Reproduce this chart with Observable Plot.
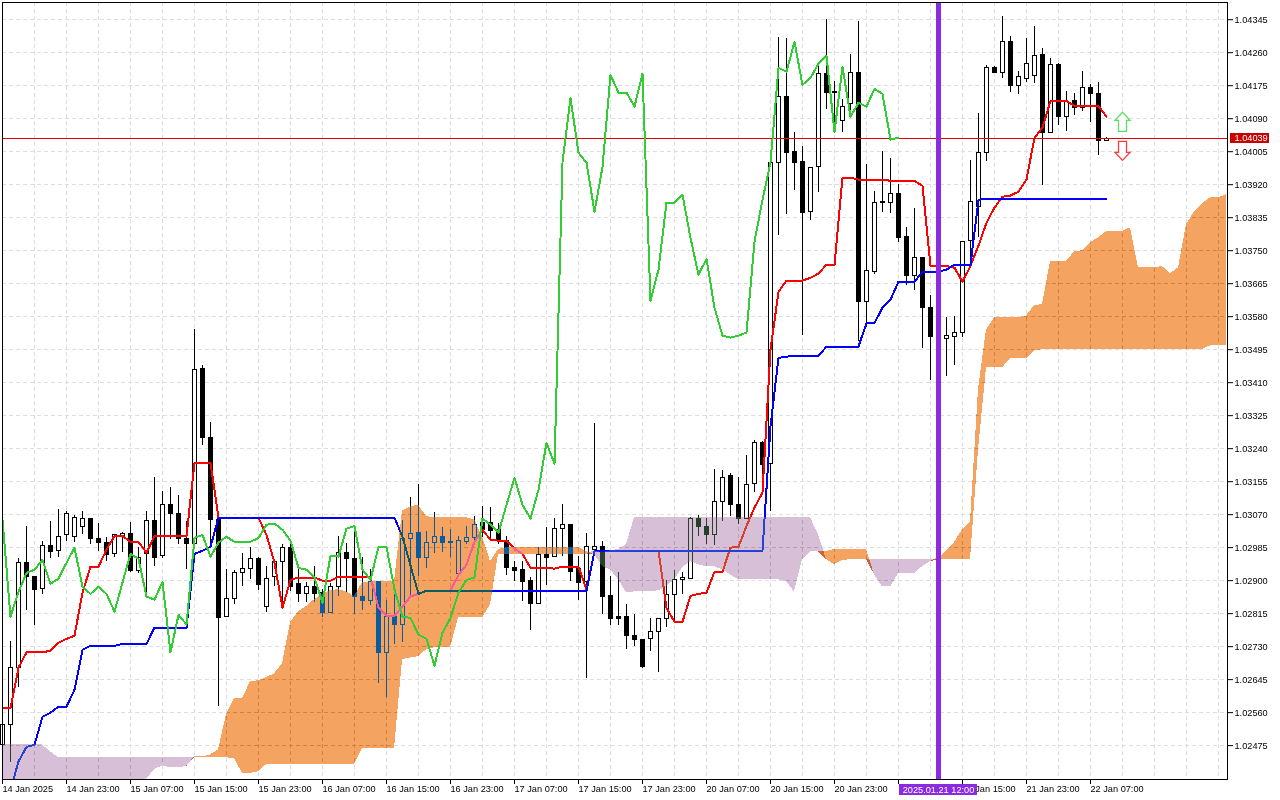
<!DOCTYPE html>
<html><head><meta charset="utf-8">
<script src="https://cdn.jsdelivr.net/npm/d3@7"></script>
<script src="https://cdn.jsdelivr.net/npm/@observablehq/plot@0.6"></script>
<style>html,body{margin:0;padding:0;background:#fff;overflow:hidden}</style>
</head><body><div id="chart"></div>
<script>
const open=[1.02477,1.02529,1.02676,1.02946,1.02910,1.02879,1.02990,1.02977,1.03018,1.03015,
1.03039,1.03060,1.03008,1.02998,1.02969,1.03015,1.03021,1.02925,1.02969,1.03054,
1.02964,1.03095,1.03072,1.03008,1.02995,1.03446,1.03268,1.03057,1.02807,1.02853,
1.02920,1.02931,1.02956,1.02833,1.02910,1.02949,1.02985,1.02892,1.02866,1.02884,
1.02869,1.02817,1.02884,1.02972,1.02956,1.02859,1.02848,1.02897,1.02715,1.02807,
1.02787,1.03008,1.03024,1.02959,1.02998,1.03013,1.03000,1.02918,1.03000,1.03010,
1.03049,1.03049,1.03031,1.03003,1.02933,1.02928,1.02900,1.02841,1.02967,1.02962,
1.03034,1.03044,1.02931,1.02897,1.02980,1.02987,1.02861,1.02807,1.02807,1.02758,
1.02748,1.02750,1.02769,1.02802,1.02864,1.02902,1.02905,1.03060,1.03039,1.03018,
1.03103,1.03170,1.03095,1.03060,1.03150,1.03255,1.03201,1.03977,1.04147,1.04005,
1.03979,1.03850,1.03966,1.04206,1.04160,1.04085,1.04129,1.04208,1.03619,1.03696,
1.03874,1.03874,1.03897,1.03786,1.03686,1.03732,1.03603,1.03528,1.03523,1.03528,
1.03539,1.03776,1.03863,1.04002,1.04221,1.04208,1.04288,1.04175,1.04193,1.04201,
1.04255,1.04054,1.04229,1.04095,1.04136,1.04118,1.04170,1.04154,1.04033];
const high=[1.02542,1.02743,1.02956,1.03039,1.02910,1.03000,1.03052,1.03083,1.03078,1.03067,
1.03078,1.03060,1.03047,1.03010,1.03018,1.03024,1.03049,1.02985,1.03078,1.03165,
1.03129,1.03139,1.03119,1.03052,1.03546,1.03454,1.03307,1.03057,1.02928,1.02925,
1.02969,1.02985,1.02959,1.02936,1.02949,1.02993,1.02993,1.02928,1.02895,1.02936,
1.02877,1.02892,1.03013,1.02995,1.03024,1.02959,1.02928,1.02897,1.02848,1.02864,
1.03054,1.03113,1.03147,1.03026,1.03075,1.03036,1.03031,1.03013,1.03039,1.03065,
1.03090,1.03088,1.03047,1.03013,1.02949,1.02949,1.02908,1.02985,1.03036,1.03060,
1.03095,1.03044,1.02962,1.03021,1.03304,1.03000,1.02910,1.02920,1.02838,1.02812,
1.02748,1.02802,1.02802,1.02900,1.02925,1.02920,1.03062,1.03067,1.03060,1.03186,
1.03183,1.03175,1.03165,1.03222,1.03261,1.03258,1.03997,1.04299,1.04296,1.04054,
1.04018,1.03964,1.04227,1.04345,1.04185,1.04139,1.04255,1.04340,1.03971,1.03902,
1.04005,1.03987,1.03920,1.03809,1.03858,1.03732,1.03634,1.03572,1.03577,1.03580,
1.03773,1.03982,1.04103,1.04227,1.04224,1.04353,1.04301,1.04211,1.04296,1.04327,
1.04270,1.04245,1.04232,1.04160,1.04154,1.04211,1.04177,1.04183,1.04041];
const low=[1.02464,1.02431,1.02624,1.02822,1.02784,1.02864,1.02956,1.02959,1.03000,1.02998,
1.03018,1.02993,1.02975,1.02949,1.02959,1.02972,1.02920,1.02918,1.02869,1.02936,
1.02956,1.03005,1.02993,1.02928,1.02987,1.03248,1.02993,1.02575,1.02807,1.02838,
1.02884,1.02902,1.02874,1.02817,1.02884,1.02825,1.02871,1.02843,1.02843,1.02843,
1.02804,1.02817,1.02859,1.02869,1.02812,1.02822,1.02835,1.02635,1.02598,1.02735,
1.02740,1.02859,1.02910,1.02931,1.02969,1.02972,1.02959,1.02915,1.02993,1.02998,
1.03010,1.03005,1.02993,1.02913,1.02897,1.02846,1.02771,1.02838,1.02887,1.02962,
1.02962,1.02897,1.02848,1.02647,1.02972,1.02812,1.02784,1.02784,1.02722,1.02730,
1.02673,1.02717,1.02663,1.02779,1.02789,1.02864,1.02905,1.03013,1.02993,1.02990,
1.03052,1.03065,1.03044,1.03060,1.03127,1.03170,1.03078,1.03789,1.03843,1.03904,
1.03531,1.03827,1.03899,1.04113,1.04080,1.04054,1.04095,1.03516,1.03552,1.03688,
1.03848,1.03845,1.03771,1.03660,1.03647,1.03497,1.03415,1.03482,1.03425,1.03454,
1.03526,1.03709,1.03783,1.03979,1.04208,1.04193,1.04157,1.04152,1.04183,1.04180,
1.03917,1.04054,1.04072,1.04056,1.04098,1.04108,1.04080,1.03995,1.04031];
const close=[1.02529,1.02676,1.02946,1.02910,1.02877,1.02990,1.02975,1.03015,1.03072,1.03062,
1.03060,1.03008,1.02998,1.02967,1.03018,1.03021,1.02925,1.02959,1.03054,1.02959,
1.03095,1.03072,1.03008,1.02995,1.03443,1.03268,1.03057,1.02804,1.02853,1.02920,
1.02931,1.02956,1.02889,1.02905,1.02949,1.02985,1.02884,1.02866,1.02884,1.02866,
1.02817,1.02884,1.02972,1.02956,1.02859,1.02848,1.02897,1.02715,1.02807,1.02787,
1.03008,1.03021,1.02959,1.02998,1.03013,1.02998,1.02998,1.03003,1.03010,1.03044,
1.03031,1.03029,1.03005,1.02933,1.02925,1.02897,1.02841,1.02967,1.02959,1.03034,
1.03044,1.02923,1.02895,1.02987,1.02987,1.02859,1.02802,1.02802,1.02758,1.02748,
1.02678,1.02769,1.02802,1.02864,1.02902,1.02908,1.03060,1.03039,1.03018,1.03103,
1.03165,1.03095,1.03060,1.03147,1.03255,1.03199,1.03977,1.04147,1.04002,1.03977,
1.03848,1.03964,1.04206,1.04157,1.04157,1.04121,1.04208,1.03619,1.03698,1.03874,
1.03876,1.03897,1.03783,1.03686,1.03732,1.03603,1.03528,1.03523,1.03531,1.03539,
1.03773,1.03876,1.04002,1.04221,1.04208,1.04288,1.04175,1.04198,1.04232,1.04252,
1.04054,1.04229,1.04095,1.04134,1.04118,1.04170,1.04154,1.04033,1.04039];
const tenkan=[1.02571,1.02571,1.02676,1.02715,1.02715,1.02715,1.02720,1.02740,1.02750,1.02758,
1.02869,1.02936,1.02936,1.02980,1.03015,1.03015,1.03000,1.03000,1.02972,1.03015,
1.03015,1.03015,1.03015,1.03015,1.03204,1.03204,1.03204,1.03062,1.03062,1.03062,
1.03062,1.03062,1.03062,1.03018,1.02946,1.02830,1.02902,1.02908,1.02908,1.02908,
1.02900,1.02900,1.02910,1.02910,1.02910,1.02910,1.02910,1.02830,1.02810,1.02810,
1.02833,1.02859,1.02866,1.02874,1.02874,1.02874,1.02874,1.02915,1.02941,1.03000,
1.03031,1.03005,1.03003,1.03003,1.02982,1.02969,1.02933,1.02933,1.02933,1.02931,
1.02936,1.02936,1.02936,1.02877,1.02975,1.02977,1.02977,1.02977,1.02977,1.02977,
1.02977,1.02977,1.02977,1.02830,1.02794,1.02794,1.02861,1.02866,1.02869,1.02923,
1.02923,1.02985,1.02987,1.03041,1.03088,1.03127,1.03495,1.03644,1.03673,1.03673,
1.03673,1.03680,1.03691,1.03714,1.03714,1.03938,1.03938,1.03933,1.03933,1.03933,
1.03933,1.03930,1.03930,1.03930,1.03930,1.03917,1.03711,1.03711,1.03711,1.03706,
1.03670,1.03711,1.03763,1.03822,1.03861,1.03889,1.03892,1.03902,1.03933,1.04041,
1.04067,1.04136,1.04136,1.04136,1.04123,1.04123,1.04123,1.04123,1.04095];
const kijun=[1.02323,1.02361,1.02434,1.02472,1.02477,1.02549,1.02560,1.02575,1.02575,1.02619,
1.02722,1.02732,1.02732,1.02732,1.02732,1.02737,1.02737,1.02737,1.02737,1.02779,
1.02779,1.02779,1.02779,1.02779,1.02969,1.02977,1.02987,1.03062,1.03062,1.03062,
1.03062,1.03062,1.03062,1.03062,1.03062,1.03062,1.03062,1.03062,1.03062,1.03062,
1.03062,1.03062,1.03062,1.03062,1.03062,1.03062,1.03062,1.03062,1.03062,1.03062,
1.03013,1.02939,1.02866,1.02874,1.02874,1.02874,1.02874,1.02874,1.02874,1.02874,
1.02874,1.02874,1.02874,1.02874,1.02874,1.02874,1.02874,1.02874,1.02874,1.02874,
1.02874,1.02874,1.02874,1.02874,1.02977,1.02977,1.02977,1.02977,1.02977,1.02977,
1.02977,1.02977,1.02977,1.02977,1.02977,1.02977,1.02977,1.02977,1.02977,1.02977,
1.02977,1.02977,1.02977,1.02977,1.02977,1.02977,1.03297,1.03474,1.03477,1.03479,
1.03479,1.03479,1.03479,1.03503,1.03503,1.03503,1.03503,1.03503,1.03564,1.03564,
1.03603,1.03624,1.03670,1.03670,1.03670,1.03696,1.03696,1.03696,1.03701,1.03714,
1.03714,1.03714,1.03881,1.03884,1.03884,1.03884,1.03884,1.03884,1.03884,1.03884,
1.03884,1.03884,1.03884,1.03884,1.03884,1.03884,1.03884,1.03884,1.03884];
const chikou=[1.03057,1.02807,1.02871,1.02920,1.02928,1.02954,1.02892,1.02905,1.02946,1.02985,
1.02884,1.02866,1.02884,1.02866,1.02820,1.02895,1.02969,1.02956,1.02859,1.02851,
1.02897,1.02715,1.02812,1.02787,1.03010,1.03018,1.02962,1.02998,1.03013,1.03000,
1.03000,1.03000,1.03010,1.03044,1.03047,1.03031,1.03003,1.02933,1.02928,1.02908,
1.02843,1.02964,1.02962,1.03034,1.03041,1.02928,1.02902,1.02987,1.02987,1.02877,
1.02807,1.02804,1.02761,1.02750,1.02681,1.02766,1.02804,1.02869,1.02902,1.02908,
1.03060,1.03044,1.03024,1.03095,1.03165,1.03095,1.03060,1.03134,1.03255,1.03201,
1.03977,1.04144,1.04002,1.03977,1.03850,1.03966,1.04203,1.04157,1.04157,1.04121,
1.04206,1.03621,1.03701,1.03874,1.03874,1.03894,1.03783,1.03688,1.03729,1.03603,
1.03531,1.03526,1.03531,1.03539,1.03773,1.03881,1.03977,1.04221,1.04211,1.04288,
1.04177,1.04195,1.04232,1.04252,1.04056,1.04224,1.04095,1.04131,1.04121,1.04167,
1.04154,1.04036,1.04041];
const spanA=[1.02361,1.02361,1.02361,1.02361,1.02361,1.02361,1.02361,1.02361,1.02361,1.02361,
1.02361,1.02361,1.02361,1.02361,1.02361,1.02361,1.02361,1.02361,1.02361,1.02413,
1.02423,1.02418,1.02418,1.02421,1.02446,1.02446,1.02451,1.02464,1.02555,1.02596,
1.02596,1.02640,1.02642,1.02650,1.02660,1.02686,1.02792,1.02820,1.02833,1.02851,
1.02864,1.02874,1.02877,1.02871,1.02859,1.02895,1.02897,1.02897,1.02897,1.02897,
1.03080,1.03090,1.03095,1.03065,1.03062,1.03062,1.03062,1.03062,1.03062,1.03057,
1.03013,1.02949,1.02980,1.02985,1.02985,1.02985,1.02985,1.02985,1.02985,1.02985,
1.02985,1.02985,1.02985,1.02975,1.02967,1.02936,1.02928,1.02902,1.02869,1.02871,
1.02871,1.02871,1.02874,1.02884,1.02902,1.02933,1.02949,1.02941,1.02936,1.02936,
1.02928,1.02915,1.02902,1.02902,1.02902,1.02902,1.02902,1.02902,1.02897,1.02871,
1.02954,1.02975,1.02975,1.02975,1.02980,1.02980,1.02980,1.02980,1.02980,1.02915,
1.02884,1.02884,1.02918,1.02918,1.02918,1.02936,1.02949,1.02959,1.02975,1.02998,
1.03031,1.03052,1.03392,1.03546,1.03577,1.03577,1.03577,1.03577,1.03582,1.03608,
1.03611,1.03722,1.03722,1.03722,1.03747,1.03750,1.03771,1.03783,1.03799,1.03799,
1.03799,1.03809,1.03706,1.03706,1.03706,1.03709,1.03691,1.03706,1.03817,1.03850,
1.03871,1.03886,1.03886,1.03894];
const spanB=[1.02477,1.02477,1.02477,1.02477,1.02477,1.02477,1.02459,1.02444,1.02444,1.02444,
1.02444,1.02444,1.02444,1.02444,1.02444,1.02444,1.02444,1.02444,1.02444,1.02444,
1.02444,1.02444,1.02444,1.02444,1.02444,1.02444,1.02444,1.02444,1.02444,1.02441,
1.02403,1.02403,1.02408,1.02426,1.02426,1.02426,1.02426,1.02426,1.02426,1.02426,
1.02426,1.02426,1.02426,1.02426,1.02426,1.02467,1.02467,1.02467,1.02467,1.02467,
1.02696,1.02701,1.02704,1.02722,1.02727,1.02727,1.02727,1.02804,1.02804,1.02804,
1.02804,1.02838,1.02967,1.02967,1.02967,1.02967,1.02967,1.02967,1.02967,1.02967,
1.02967,1.02967,1.02967,1.02967,1.02977,1.02972,1.02977,1.02980,1.02993,1.03062,
1.03062,1.03062,1.03062,1.03062,1.03062,1.03062,1.03062,1.03062,1.03062,1.03062,
1.03062,1.03062,1.03062,1.03062,1.03062,1.03062,1.03062,1.03062,1.03062,1.03062,
1.03062,1.03062,1.03018,1.02954,1.02941,1.02952,1.02954,1.02954,1.02954,1.02954,
1.02954,1.02954,1.02954,1.02954,1.02954,1.02954,1.02954,1.02954,1.02954,1.02954,
1.02954,1.02954,1.03237,1.03448,1.03448,1.03448,1.03472,1.03472,1.03472,1.03492,
1.03495,1.03495,1.03495,1.03495,1.03495,1.03495,1.03495,1.03495,1.03495,1.03495,
1.03495,1.03495,1.03495,1.03495,1.03495,1.03495,1.03495,1.03495,1.03495,1.03495,
1.03495,1.03505,1.03505,1.03505];
const priceTicks=[1.04345,1.0426,1.04175,1.0409,1.04005,1.0392,1.03835,1.0375,1.03665,1.0358,1.03495,1.0341,1.03325,1.0324,1.03155,1.0307,1.02985,1.029,1.02815,1.0273,1.02645,1.0256,1.02475];
const timeLabels=["14 Jan 2025","14 Jan 23:00","15 Jan 07:00","15 Jan 15:00","15 Jan 23:00","16 Jan 07:00","16 Jan 15:00","16 Jan 23:00","17 Jan 07:00","17 Jan 15:00","17 Jan 23:00","20 Jan 07:00","20 Jan 15:00","20 Jan 23:00","","21 Jan 15:00","21 Jan 23:00","22 Jan 07:00"];
const lastPrice=1.04039, markedBar=117, markedLabel="2025.01.21 12:00";
const yDomain=[1.0238776,1.0438931], xDomain=[0,153.125];

const candles=open.map((o,i)=>({i,open:o,high:high[i],low:low[i],close:close[i]}));
const series=a=>a.map((v,i)=>({i,v}));
const floorY=v=>Math.max(v,yDomain[0]);
const cloud=spanA.map((a,i)=>{const A=floorY(a),B=floorY(spanB[i]);return {i,a:A,b:B,m:Math.min(A,B)};});
const barTicks=timeLabels.map((_,k)=>k*8), gridBars=d3.range(0,153,4);
const bodyHalf=0.25, crisp={shapeRendering:"crispEdges"};
const arrow=up=>({draw(c){const s=up?1:-1;
  c.moveTo(0,-9.5*s);c.lineTo(7.5*s,-1.5*s);c.lineTo(4*s,-1.5*s);c.lineTo(4*s,9.5*s);c.lineTo(-4*s,9.5*s);c.lineTo(-4*s,-1.5*s);c.lineTo(-7.5*s,-1.5*s);c.closePath();}});

const chart=Plot.plot({
  width:1280,height:800,marginLeft:2,marginRight:53,marginTop:2,marginBottom:21,
  style:{background:"white",fontFamily:"'Liberation Sans',Arial,sans-serif",fontSize:"9.2px",color:"black"},
  x:{domain:xDomain,label:null},
  y:{domain:yDomain,label:null},
  marks:[
    Plot.frame({fill:"white",stroke:"none"}),
    Plot.gridY(priceTicks,{stroke:"#dedede",strokeOpacity:1,strokeDasharray:"4,3",...crisp}),
    Plot.gridX(gridBars,{stroke:"#dedede",strokeOpacity:1,strokeDasharray:"4,3",...crisp}),
    Plot.ruleX(candles,{x:"i",y1:"low",y2:"high",stroke:"black",...crisp}),
    Plot.rect(candles,{x1:d=>d.i-bodyHalf,x2:d=>d.i+bodyHalf,y1:"open",y2:"close",fill:d=>d.close>=d.open?"white":"black",stroke:"black",dx:0.5,dy:0.5,inset:0,...crisp}),
    Plot.lineY(series(tenkan),{x:"i",y:"v",stroke:"#ff0000",strokeWidth:2,...crisp}),
    Plot.lineY(series(kijun),{x:"i",y:"v",stroke:"#0000ff",strokeWidth:2,clip:true,...crisp}),
    Plot.areaY(cloud,{x:"i",y1:"a",y2:"m",fill:"#0b5b9f",mixBlendMode:"difference",...crisp}),
    Plot.areaY(cloud,{x:"i",y1:"b",y2:"m",fill:"#274027",mixBlendMode:"difference",...crisp}),
    Plot.lineY(xDomain.map(i=>({i,v:lastPrice})),{x:"i",y:"v",stroke:"#e00000",strokeWidth:1,...crisp}),
    Plot.lineY(series(chikou),{x:"i",y:"v",stroke:"#32cd32",strokeWidth:2,...crisp}),
    Plot.ruleX([markedBar],{stroke:"#8a2be2",strokeWidth:5,...crisp}),
    Plot.dot([{i:140,v:1.04082}],{x:"i",y:"v",r:1,symbol:arrow(true),fill:"white",stroke:"#5fdc6a",strokeWidth:1.3}),
    Plot.dot([{i:140,v:1.04007}],{x:"i",y:"v",r:1,symbol:arrow(false),fill:"white",stroke:"#ff3a3a",strokeWidth:1.3}),
    Plot.frame({stroke:"black",...crisp}),
    Plot.axisY({anchor:"right",ticks:priceTicks,tickSize:5,tickPadding:2,tickFormat:d3.format(".5f"),label:null,stroke:"black"}),
    Plot.axisX({anchor:"bottom",ticks:barTicks,tickSize:5,tickPadding:1,tickFormat:d=>timeLabels[d/8],textAnchor:"start",label:null,stroke:"black"}),
    Plot.rect([markedLabel],{x1:()=>112.125,x2:()=>121.875,y1:()=>1.02375,y2:()=>1.02347,fill:"#8a2be2",...crisp}),
    Plot.text([markedLabel],{x:()=>markedBar,y:()=>1.02361,text:d=>d,fill:"white"}),
    Plot.rect([lastPrice],{x1:()=>153.5,x2:()=>158.4,y1:()=>1.04053,y2:()=>1.04025,fill:"#c80000",...crisp}),
    Plot.text([lastPrice],{x:()=>154,y:d=>d,text:d=>d.toFixed(5),textAnchor:"start",fill:"white"})
  ]
});
document.getElementById("chart").append(chart);
</script></body></html>
